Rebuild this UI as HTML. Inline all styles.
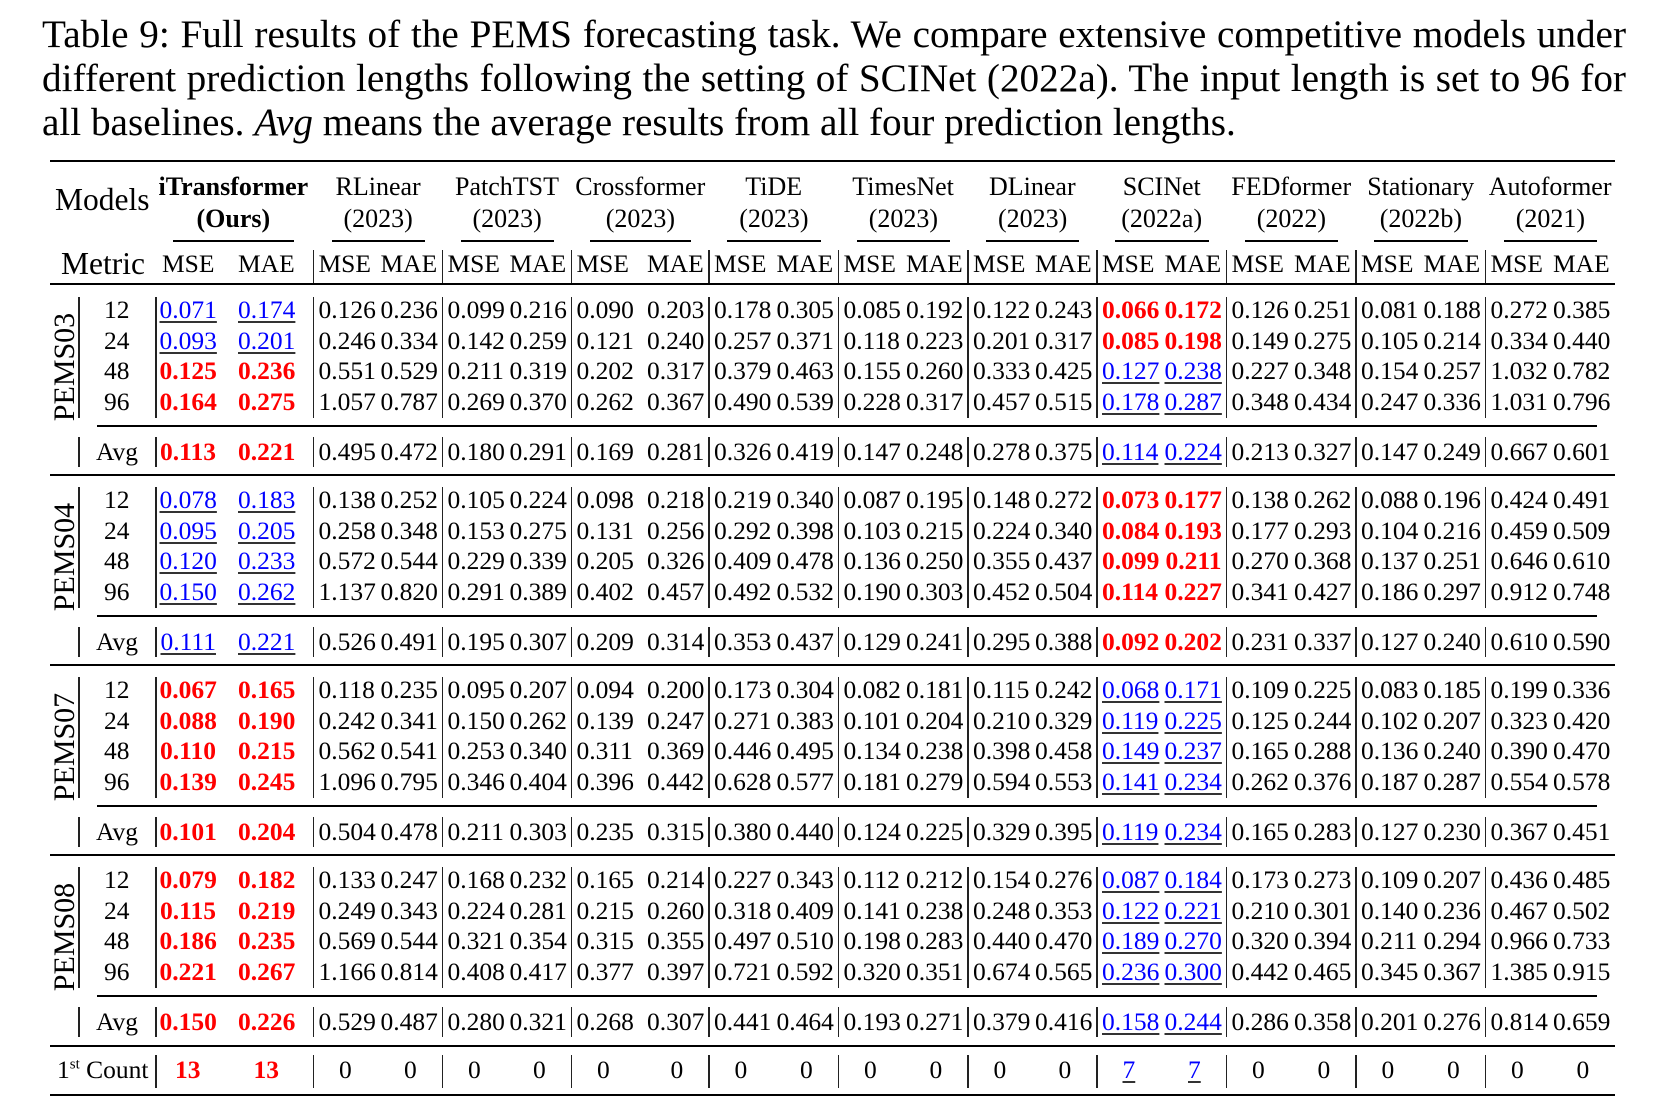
<!DOCTYPE html>
<html><head><meta charset="utf-8">
<style>
html,body{margin:0;padding:0;background:#fff;}
#page{position:relative;width:1657px;height:1115px;overflow:hidden;background:#fff;font-family:"Liberation Serif",serif;color:#000;}
.caption{position:absolute;left:42px;top:13px;width:1584px;font-size:39.2px;line-height:44px;}
.caption span{display:block;text-align:justify;text-align-last:justify;white-space:nowrap;}
.caption span.last{text-align-last:left;}
.t{position:absolute;white-space:nowrap;font-size:25.5px;line-height:30px;height:30px;}
.hl{position:absolute;background:#000;}
.vl{position:absolute;background:#222;width:1.4px;}
.red{color:#ff0000;font-weight:bold;}
.blue{color:#0000ff;text-decoration:underline;text-decoration-color:#333;text-decoration-thickness:1.5px;text-underline-offset:3px;}
</style></head>
<body>
<div id="page">
  <div class="caption">
    <span>Table 9: Full results of the PEMS forecasting task. We compare extensive competitive models under</span>
    <span>different prediction lengths following the setting of SCINet (2022a). The input length is set to 96 for</span>
    <span class="last">all baselines. <i>Avg</i> means the average results from all four prediction lengths.</span>
  </div>
</div>
<script>
// ---- data ----
const models = ["iTransformer","RLinear","PatchTST","Crossformer","TiDE","TimesNet","DLinear","SCINet","FEDformer","Stationary","Autoformer"];
const years = ["(Ours)","(2023)","(2023)","(2023)","(2023)","(2023)","(2023)","(2022a)","(2022)","(2022b)","(2021)"];
const datasets = ["PEMS03","PEMS04","PEMS07","PEMS08"];
const horizons = ["12","24","48","96","Avg"];
const pems03 = [
"0.071 0.174 0.126 0.236 0.099 0.216 0.090 0.203 0.178 0.305 0.085 0.192 0.122 0.243 0.066 0.172 0.126 0.251 0.081 0.188 0.272 0.385",
"0.093 0.201 0.246 0.334 0.142 0.259 0.121 0.240 0.257 0.371 0.118 0.223 0.201 0.317 0.085 0.198 0.149 0.275 0.105 0.214 0.334 0.440",
"0.125 0.236 0.551 0.529 0.211 0.319 0.202 0.317 0.379 0.463 0.155 0.260 0.333 0.425 0.127 0.238 0.227 0.348 0.154 0.257 1.032 0.782",
"0.164 0.275 1.057 0.787 0.269 0.370 0.262 0.367 0.490 0.539 0.228 0.317 0.457 0.515 0.178 0.287 0.348 0.434 0.247 0.336 1.031 0.796",
"0.113 0.221 0.495 0.472 0.180 0.291 0.169 0.281 0.326 0.419 0.147 0.248 0.278 0.375 0.114 0.224 0.213 0.327 0.147 0.249 0.667 0.601"];
const pems04 = [
"0.078 0.183 0.138 0.252 0.105 0.224 0.098 0.218 0.219 0.340 0.087 0.195 0.148 0.272 0.073 0.177 0.138 0.262 0.088 0.196 0.424 0.491",
"0.095 0.205 0.258 0.348 0.153 0.275 0.131 0.256 0.292 0.398 0.103 0.215 0.224 0.340 0.084 0.193 0.177 0.293 0.104 0.216 0.459 0.509",
"0.120 0.233 0.572 0.544 0.229 0.339 0.205 0.326 0.409 0.478 0.136 0.250 0.355 0.437 0.099 0.211 0.270 0.368 0.137 0.251 0.646 0.610",
"0.150 0.262 1.137 0.820 0.291 0.389 0.402 0.457 0.492 0.532 0.190 0.303 0.452 0.504 0.114 0.227 0.341 0.427 0.186 0.297 0.912 0.748",
"0.111 0.221 0.526 0.491 0.195 0.307 0.209 0.314 0.353 0.437 0.129 0.241 0.295 0.388 0.092 0.202 0.231 0.337 0.127 0.240 0.610 0.590"];
const pems07 = [
"0.067 0.165 0.118 0.235 0.095 0.207 0.094 0.200 0.173 0.304 0.082 0.181 0.115 0.242 0.068 0.171 0.109 0.225 0.083 0.185 0.199 0.336",
"0.088 0.190 0.242 0.341 0.150 0.262 0.139 0.247 0.271 0.383 0.101 0.204 0.210 0.329 0.119 0.225 0.125 0.244 0.102 0.207 0.323 0.420",
"0.110 0.215 0.562 0.541 0.253 0.340 0.311 0.369 0.446 0.495 0.134 0.238 0.398 0.458 0.149 0.237 0.165 0.288 0.136 0.240 0.390 0.470",
"0.139 0.245 1.096 0.795 0.346 0.404 0.396 0.442 0.628 0.577 0.181 0.279 0.594 0.553 0.141 0.234 0.262 0.376 0.187 0.287 0.554 0.578",
"0.101 0.204 0.504 0.478 0.211 0.303 0.235 0.315 0.380 0.440 0.124 0.225 0.329 0.395 0.119 0.234 0.165 0.283 0.127 0.230 0.367 0.451"];
const pems08 = [
"0.079 0.182 0.133 0.247 0.168 0.232 0.165 0.214 0.227 0.343 0.112 0.212 0.154 0.276 0.087 0.184 0.173 0.273 0.109 0.207 0.436 0.485",
"0.115 0.219 0.249 0.343 0.224 0.281 0.215 0.260 0.318 0.409 0.141 0.238 0.248 0.353 0.122 0.221 0.210 0.301 0.140 0.236 0.467 0.502",
"0.186 0.235 0.569 0.544 0.321 0.354 0.315 0.355 0.497 0.510 0.198 0.283 0.440 0.470 0.189 0.270 0.320 0.394 0.211 0.294 0.966 0.733",
"0.221 0.267 1.166 0.814 0.408 0.417 0.377 0.397 0.721 0.592 0.320 0.351 0.674 0.565 0.236 0.300 0.442 0.465 0.345 0.367 1.385 0.915",
"0.150 0.226 0.529 0.487 0.280 0.321 0.268 0.307 0.441 0.464 0.193 0.271 0.379 0.416 0.158 0.244 0.286 0.358 0.201 0.276 0.814 0.659"];
const itBest03 = [0,0,1,1,1];
const itBest04 = [0,0,0,0,0];
const itBest07 = [1,1,1,1,1];
const itBest08 = [1,1,1,1,1];
const firstCount = ["13","13","0","0","0","0","0","0","0","0","0","0","0","0","7","7","0","0","0","0","0","0"];

// ---- layout ----
const page = document.getElementById('page');
const allData = [pems03,pems04,pems07,pems08];
const allBest = [itBest03,itBest04,itBest07,itBest08];
const seps = [313.5,442.5,571.5,709,838.5,968,1097,1226.5,1356,1485.5,1615];
const X0 = 50, X1 = 1615;

function txt(s, x, y, align, cls, name, fs, fw){
  const d = document.createElement('div');
  d.className = 't' + (cls ? ' ' + cls : '');
  d.textContent = s;
  if (fs) d.style.fontSize = fs + 'px';
  if (fw) d.style.fontWeight = fw;
  
  
  page.appendChild(d);
  const w = d.offsetWidth;
  let left = x;
  if (align === 'c') left = x - w/2;
  else if (align === 'r') left = x - w;
  d.style.left = left + 'px';
  d.style.top = (y - 15) + 'px';
  return d;
}
function hline(x1, x2, y, th, name){
  const d = document.createElement('div');
  d.className = 'hl';
  d.style.left = x1 + 'px'; d.style.width = (x2 - x1) + 'px';
  d.style.top = (y - th/2) + 'px'; d.style.height = th + 'px';
  
  
  page.appendChild(d);
}
function vline(x, y1, y2, name){
  const d = document.createElement('div');
  d.className = 'vl';
  d.style.left = (x - 0.7) + 'px'; d.style.top = y1 + 'px'; d.style.height = (y2 - y1) + 'px';
  
  
  page.appendChild(d);
}

// rules
hline(X0, X1, 161, 2.6, 'top-rule');
hline(X0, X1, 284, 2.6, 'header-rule');
hline(X0, X1, 1095, 2.8, 'bottom-rule');

// header
txt('Models', 55, 200, 'l', '', 'models-header', 31.5);
txt('Metric', 61, 264, 'l', '', 'metric-header', 31.5);

for (let m = 0; m < models.length; m++) {
  let cx, l, r;
  if (m === 0) { l = 173; r = 294; cx = 233.5; }
  else { const L = seps[m-1], R = seps[m]; l = L + 18; r = R - 18; cx = (L + R)/2; }
  txt(models[m], cx, 187, 'c', '', 'model-name-' + models[m].toLowerCase(), 26, m === 0 ? 'bold' : null);
  txt(years[m], cx, 219, 'c', '', 'model-year-' + models[m].toLowerCase(), 26, m === 0 ? 'bold' : null);
  hline(l, r, 241, 1.3, 'header-cmidrule');
  if (m === 0) {
    txt('MSE', 188, 264, 'c', '', 'metric-mse');
    txt('MAE', 266.5, 264, 'c', '', 'metric-mae');
  } else {
    const L = seps[m-1], R = seps[m];
    txt('MSE', L + 5, 264, 'l', '', 'metric-mse');
    txt('MAE', R - 5, 264, 'r', '', 'metric-mae');
    vline(L, 250, 283, 'header-separator');
  }
}

// body
function cellPos(c){
  const m = Math.floor(c/2), isMae = c % 2;
  if (m === 0) return isMae ? [266.5,'c'] : [188,'c'];
  const L = seps[m-1], R = seps[m];
  return isMae ? [R - 5,'r'] : [L + 5,'l'];
}
for (let b = 0; b < datasets.length; b++) {
  const base = 190*b;
  const rows = allData[b], best = allBest[b];
  const lab = txt(datasets[b], 65, 367 + base, 'c', '', 'dataset-label-' + datasets[b].toLowerCase(), 30);
  lab.style.transform = 'rotate(-90deg)';
  for (let i = 0; i < 5; i++) {
    const y = i < 4 ? 310 + base + 30.67*i : 452 + base;
    txt(horizons[i], 117, y, 'c', '', 'horizon-' + horizons[i].toLowerCase());
    const vals = rows[i].split(' ');
    for (let c = 0; c < vals.length; c++) {
      const m = Math.floor(c/2);
      let cls = '';
      if (m === 0) cls = best[i] ? 'red' : 'blue';
      else if (m === 7) cls = best[i] ? 'blue' : 'red';
      const p = cellPos(c);
      txt(vals[c], p[0], y, p[1], cls, 'value-' + models[m].toLowerCase() + (c%2 ? '-mae' : '-mse'));
    }
  }
  const yTop = 297 + base, yBot = 418 + base, aTop = 437 + base, aBot = 467 + base;
  vline(79, yTop, yBot, 'dataset-separator');
  vline(79, aTop, aBot, 'dataset-separator');
  vline(156, yTop, yBot, 'column-separator');
  vline(156, aTop, aBot, 'column-separator');
  for (let k = 0; k < seps.length - 1; k++) {
    vline(seps[k], yTop, yBot, 'column-separator');
    vline(seps[k], aTop, aBot, 'column-separator');
  }
  hline(97, 1597, 426 + base, 1.3, 'avg-midrule');
  hline(X0, X1, b === 3 ? 1046 : 475 + base, b === 3 ? 2 : 1.4, 'block-rule');
}

// count row
const cnt = document.createElement('div');
cnt.className = 't';
cnt.innerHTML = '1<sup style="font-size:15px;line-height:0">st</sup> Count';
cnt.style.left = '57px'; cnt.style.top = (1070 - 15) + 'px';


page.appendChild(cnt);
for (let c = 0; c < firstCount.length; c++) {
  const m = Math.floor(c/2), isMae = c % 2;
  let x;
  if (m === 0) x = isMae ? 266.5 : 188;
  else { const L = seps[m-1], R = seps[m]; x = isMae ? R - 32 : L + 32; }
  let cls = '';
  if (m === 0) cls = 'red';
  else if (m === 7) cls = 'blue';
  txt(firstCount[c], x, 1070, 'c', cls, 'count-' + models[m].toLowerCase() + (isMae ? '-mae' : '-mse'));
}
vline(156, 1055, 1088, 'count-separator');
for (let k = 0; k < seps.length - 1; k++) vline(seps[k], 1055, 1088, 'count-separator');
</script>
</body></html>
